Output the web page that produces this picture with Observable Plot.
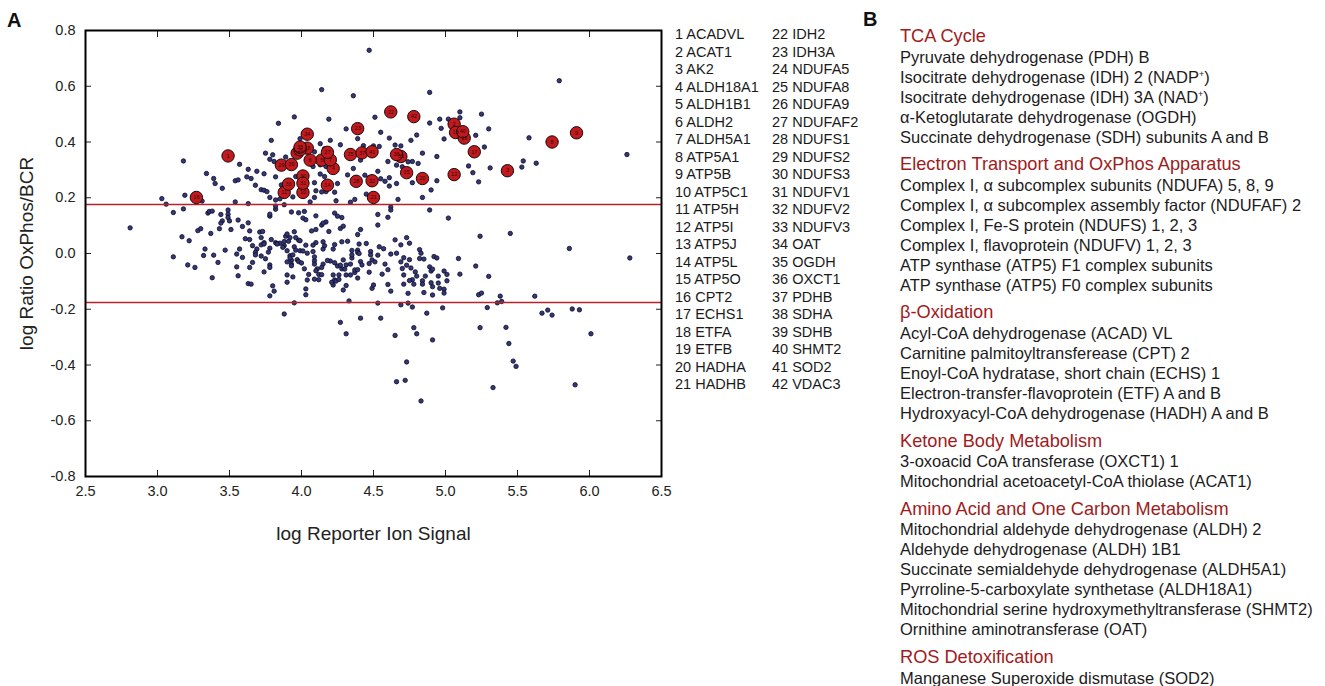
<!DOCTYPE html>
<html><head><meta charset="utf-8">
<script src="https://cdn.jsdelivr.net/npm/d3@7"></script>
<script src="https://cdn.jsdelivr.net/npm/@observablehq/plot@0.6"></script>
<style>
body{margin:0;background:#fff;font-family:"Liberation Sans",Arial,Helvetica,sans-serif;}
#wrap{position:relative;width:1325px;height:686px;overflow:hidden;background:#fff;}
#chart{position:absolute;left:0;top:0;}
.panel{position:absolute;font-weight:bold;font-size:20px;color:#111;}
.col{position:absolute;top:26.25px;font-size:14.5px;line-height:17.5px;color:#1a1a1a;white-space:nowrap;}
#pathways{position:absolute;left:900px;top:26px;white-space:nowrap;}
.hd{color:#a11b21;font-size:18.2px;line-height:20px;margin-top:7.5px;padding-bottom:0.7px;}
.hd.first{margin-top:0;}
.ln{font-size:16.5px;line-height:20px;color:#1d1b1c;}
#chart g[aria-label="x-axis label"] text,#chart g[aria-label="y-axis label"] text{font-size:19px;}
</style>
</head><body>
<div id="wrap">
  <div id="chart"></div>
  <div class="panel" style="left:7px;top:9px;">A</div>
  <div class="panel" style="left:863px;top:8px;">B</div>
  <div class="col" id="col1" style="left:675px;"></div>
  <div class="col" id="col2" style="left:772px;"></div>
  <div id="pathways"></div>
</div>
<script>
// Axis ticks
const xTicks = [2.5, 3.0, 3.5, 4.0, 4.5, 5.0, 5.5, 6.0, 6.5];
const yTicks = [-0.8, -0.6, -0.4, -0.2, 0.0, 0.2, 0.4, 0.6, 0.8];
// 1.5-fold thresholds (log10 1.5)
const thresholds = [0.176, -0.176];

// Highlighted mitochondrial proteins (numbered), [log signal, log ratio]
const proteinNames = ["ACADVL","ACAT1","AK2","ALDH18A1","ALDH1B1","ALDH2","ALDH5A1","ATP5A1","ATP5B","ATP5C1",
  "ATP5H","ATP5I","ATP5J","ATP5L","ATP5O","CPT2","ECHS1","ETFA","ETFB","HADHA","HADHB",
  "IDH2","IDH3A","NDUFA5","NDUFA8","NDUFA9","NDUFAF2","NDUFS1","NDUFS2","NDUFS3","NDUFV1",
  "NDUFV2","NDUFV3","OAT","OGDH","OXCT1","PDHB","SDHA","SDHB","SHMT2","SOD2","VDAC3"];
const proteinSignal = [3.49,5.06,5.43,4.22,4.14,4.06,4.20,5.74,5.91,4.01,
  3.88,5.06,5.07,4.18,4.73,3.27,5.20,4.04,5.13,4.84,4.50,
  4.62,4.39,3.97,4.34,3.99,4.18,4.38,3.86,4.01,4.01,
  4.49,3.91,4.04,4.69,4.66,4.42,3.99,3.93,5.12,4.49,4.78];
const proteinRatio = [0.350,0.464,0.297,0.305,0.335,0.335,0.336,0.400,0.433,0.219,
  0.219,0.283,0.434,0.245,0.290,0.201,0.365,0.378,0.414,0.269,0.201,
  0.508,0.448,0.360,0.355,0.372,0.363,0.259,0.317,0.278,0.252,
  0.261,0.249,0.428,0.348,0.355,0.361,0.382,0.319,0.437,0.365,0.491];

// All other quantified proteins, [log reporter ion signal, log ratio]
const otherProteins = [
[3.95,0.490],[3.84,0.467],[3.79,0.406],[3.99,0.412],[3.18,0.332],[3.75,0.360],[3.80,0.354],[3.89,0.346],[3.78,0.338],[3.81,0.330],[3.57,0.320],[3.63,0.302],[3.69,0.295],[3.34,0.287],[3.62,0.275],[3.65,0.269],[3.74,0.286],[3.82,0.275],[3.96,0.276],[3.39,0.269],[3.40,0.251],[3.45,0.234],[3.54,0.261],[3.56,0.264],[3.68,0.245],[3.72,0.229],[3.74,0.227],[3.76,0.222],[3.86,0.246],[3.78,0.201],[3.82,0.192],[3.85,0.196],[3.94,0.203],[3.19,0.209],[3.03,0.197],[3.06,0.177],[3.31,0.188],[3.54,0.185],[3.63,0.179],[3.11,0.147],[3.18,0.160],[3.35,0.145],[3.36,0.151],[3.38,0.152],[3.49,0.156],[3.44,0.140],[3.49,0.141],[3.49,0.129],[3.45,0.117],[3.44,0.109],[3.50,0.117],[3.43,0.089],[3.51,0.086],[3.56,0.120],[3.59,0.097],[3.63,0.110],[3.64,0.081],[3.78,0.134],[3.78,0.141],[3.82,0.159],[3.82,0.170],[3.88,0.175],[3.93,0.149],[3.98,0.146],[3.28,0.082],[3.30,0.089],[3.37,0.072],[2.81,0.092],[3.17,0.060],[3.22,0.046],[3.33,0.016],[3.47,0.012],[3.61,0.053],[3.64,0.050],[3.71,0.077],[3.73,0.079],[3.72,0.057],[3.74,0.039],[3.79,0.050],[3.82,0.039],[3.83,0.036],[3.85,0.037],[3.88,0.028],[3.89,0.062],[3.90,0.070],[3.92,0.057],[3.95,0.078],[3.96,0.057],[3.98,0.048],[3.88,0.043],[3.78,0.019],[3.69,0.016],[3.57,0.016],
[3.11,-0.012],[3.21,-0.041],[3.26,-0.050],[3.32,-0.007],[3.39,-0.006],[3.42,-0.032],[3.55,-0.002],[3.55,-0.048],[3.56,-0.080],[3.59,-0.014],[3.38,-0.087],[3.63,-0.108],[3.65,-0.110],[3.64,-0.050],[3.66,-0.032],[3.66,0.028],[3.68,0.004],[3.68,-0.005],[3.72,-0.009],[3.72,0.031],[3.74,0.034],[3.74,-0.066],[3.75,-0.019],[3.77,0.005],[3.78,-0.041],[3.78,-0.050],[3.80,-0.116],[3.78,-0.152],[3.81,-0.135],[3.83,0.034],[3.87,0.022],[3.90,0.010],[3.92,-0.008],[3.93,-0.024],[3.93,-0.038],[3.94,-0.005],[3.94,-0.084],[3.90,-0.077],[3.90,-0.103],[3.95,0.024],[3.97,-0.022],[3.98,-0.029],[3.95,-0.177],[3.88,-0.217],[3.99,0.010],
[4.47,0.729],[4.14,0.588],[4.36,0.566],[4.89,0.578],[5.79,0.620],[4.19,0.482],[4.51,0.489],[4.31,0.447],[4.55,0.435],[4.80,0.425],[4.76,0.406],[4.61,0.414],[4.89,0.468],[4.96,0.482],[4.97,0.449],[4.99,0.411],[5.02,0.482],[5.10,0.487],[5.10,0.508],[5.25,0.500],[5.30,0.447],[5.21,0.424],[5.27,0.382],[5.58,0.415],[5.54,0.332],[5.53,0.310],[5.63,0.324],[5.31,0.307],[5.16,0.314],[5.19,0.290],[5.23,0.257],[5.86,0.018],[5.45,0.072],[5.24,0.062],[5.02,0.127],[4.89,0.156],[4.84,0.201],[4.90,0.228],[4.94,0.261],[4.77,0.254],[4.81,0.323],[4.77,0.330],[4.74,0.329],[4.84,0.360],[4.94,0.348],[4.69,0.386],[4.65,0.389],[4.60,0.330],[4.66,0.317],[4.70,0.311],[4.61,0.272],[4.66,0.251],[4.61,0.242],[4.58,0.259],[4.55,0.268],[4.53,0.295],[4.50,0.386],[4.54,0.384],[4.43,0.387],[4.41,0.335],[4.36,0.305],[4.32,0.282],[4.44,0.281],[4.47,0.272],[4.45,0.213],[4.37,0.194],[4.34,0.184],[4.67,0.194],[4.62,0.167],[4.62,0.156],[4.60,0.130],[4.53,0.140],[4.53,0.102],[4.39,0.412],[4.27,0.390],[4.20,0.406],[4.13,0.394],[4.16,0.376],[4.09,0.365],[4.08,0.332],[4.08,0.312],[4.13,0.318],[4.17,0.312],[4.13,0.285],[4.16,0.276],[4.09,0.254],[4.10,0.225],[4.14,0.221],[4.17,0.222],[4.23,0.220],[4.24,0.189],[4.25,0.251],[4.06,0.185],[4.09,0.201],[4.02,0.151],[4.01,0.127],[4.03,0.121],[4.10,0.135],[4.23,0.145],[4.25,0.134],[4.28,0.129],[4.17,0.113],[4.14,0.102],[4.15,0.109],[4.10,0.086],[4.07,0.081],[4.27,0.090],[4.29,0.098],[4.19,0.079],[4.41,0.086],[4.39,0.068],[4.32,0.044],[4.28,0.042],[4.40,0.034],[4.45,0.036],[4.54,0.024],[4.65,0.049],[4.69,0.031],[4.73,0.057],[4.75,0.037],[4.82,0.014],[4.83,0.001],[4.92,-0.011],[5.09,-0.018],[4.66,0.001],[4.62,-0.002],[4.48,0.007],[4.39,0.012],[4.35,0.011],[4.22,0.016],[4.15,0.016],[4.10,0.039],[4.08,0.030],[4.03,0.030],[3.99,0.046],[3.91,0.044],[3.96,0.012],[4.01,0.009],[4.04,0.001],
[4.15,0.042],[4.16,0.028],[4.23,0.032],[4.39,0.004],[4.57,0.017],[4.82,-0.018],[4.85,-0.020],[4.94,-0.016],[5.21,-0.045],[5.10,-0.074],[5.30,-0.082],[5.23,-0.148],[5.25,-0.142],[5.38,-0.153],[5.39,-0.172],[5.36,-0.177],[5.29,-0.194],[5.62,-0.153],[5.67,-0.214],[5.71,-0.203],[5.74,-0.221],[5.88,-0.199],[5.93,-0.202],[5.24,-0.266],[5.42,-0.265],[5.44,-0.323],[5.47,-0.386],[5.49,-0.405],[5.33,-0.481],[5.90,-0.471],[4.98,-0.195],[4.87,-0.214],[4.91,-0.310],[4.77,-0.192],[4.74,-0.178],[4.69,-0.184],[4.78,-0.266],[4.80,-0.288],[4.65,-0.294],[4.73,-0.389],[4.66,-0.460],[4.72,-0.455],[4.83,-0.529],[4.55,-0.232],[4.41,-0.232],[4.27,-0.247],[4.31,-0.288],[4.33,-0.170],[4.53,-0.178],[4.29,-0.131],[4.31,-0.115],[4.22,-0.113],[4.21,-0.103],[4.23,-0.095],[4.24,-0.099],[4.26,-0.093],[4.26,-0.077],[4.22,-0.077],[4.31,-0.077],[4.34,-0.077],[4.39,-0.088],[4.37,-0.068],[4.37,-0.059],[4.28,-0.055],[4.30,-0.056],[4.25,-0.045],[4.27,-0.042],[4.31,-0.041],[4.34,-0.038],[4.29,-0.023],[4.23,-0.033],[4.20,-0.027],[4.18,-0.025],[4.15,-0.038],[4.14,-0.050],[4.11,-0.055],[4.10,-0.062],[4.12,-0.075],[4.09,-0.092],[4.12,-0.094],[4.14,-0.076],[4.05,-0.075],[4.04,-0.095],[4.02,-0.055],[4.00,-0.034],[3.92,-0.016],[3.93,-0.044],[3.90,-0.030],[4.03,-0.127],[4.03,-0.148],[4.09,-0.026],[4.09,-0.038],[4.09,-0.012],[4.08,0.007],[4.35,-0.016],[4.35,-0.005],[4.40,0.000],[4.41,-0.029],[4.42,-0.041],[4.39,-0.058],[4.47,-0.067],[4.49,-0.125],[4.50,-0.113],[4.47,-0.036],[4.49,-0.023],[4.51,-0.030],[4.53,-0.006],[4.48,-0.005],[4.56,-0.074],[4.58,-0.038],[4.60,-0.058],[4.62,-0.135],[4.60,-0.111],[4.69,-0.030],[4.70,-0.054],[4.71,-0.077],[4.71,-0.110],[4.71,-0.015],[4.73,-0.042],[4.75,-0.022],[4.76,-0.052],[4.77,-0.094],[4.74,-0.143],[4.75,-0.097],[4.79,-0.066],[4.80,-0.081],[4.78,-0.110],[4.84,-0.098],[4.84,-0.110],[4.85,-0.140],[4.86,-0.081],[4.89,-0.048],[4.90,-0.063],[4.91,-0.056],[4.95,-0.081],[4.90,-0.105],[4.91,-0.119],[4.91,-0.149],[4.95,-0.106],[4.96,-0.125],[4.99,-0.128],[4.99,-0.142],[4.99,-0.063],[5.01,-0.075],[5.01,-0.098],
[6.28,-0.016],[6.01,-0.288],[6.26,0.355]
];

// Panel B: pathway groups
const pathwayGroups = [
  {title: "TCA Cycle", items: ["Pyruvate dehydrogenase (PDH) B","Isocitrate dehydrogenase (IDH) 2 (NADP<sup>+</sup>)","Isocitrate dehydrogenase (IDH) 3A (NAD<sup>+</sup>)","\u03B1-Ketoglutarate dehydrogenase (OGDH)","Succinate dehydrogenase (SDH) subunits A and B"]},
  {title: "Electron Transport and OxPhos Apparatus", items: ["Complex I, \u03B1 subcomplex subunits (NDUFA) 5, 8, 9","Complex I, \u03B1 subcomplex assembly factor (NDUFAF) 2","Complex I, Fe-S protein (NDUFS) 1, 2, 3","Complex I, flavoprotein (NDUFV) 1, 2, 3","ATP synthase (ATP5) F1 complex subunits","ATP synthase (ATP5) F0 complex subunits"]},
  {title: "\u03B2-Oxidation", items: ["Acyl-CoA dehydrogenase (ACAD) VL","Carnitine palmitoyltransferease (CPT) 2","Enoyl-CoA hydratase, short chain (ECHS) 1","Electron-transfer-flavoprotein (ETF) A and B","Hydroxyacyl-CoA dehydrogenase (HADH) A and B"]},
  {title: "Ketone Body Metabolism", items: ["3-oxoacid CoA transferase (OXCT1) 1","Mitochondrial acetoacetyl-CoA thiolase (ACAT1)"]},
  {title: "Amino Acid and One Carbon Metabolism", items: ["Mitochondrial aldehyde dehydrogenase (ALDH) 2","Aldehyde dehydrogenase (ALDH) 1B1","Succinate semialdehyde dehydrogenase (ALDH5A1)","Pyrroline-5-carboxylate synthetase (ALDH18A1)","Mitochondrial serine hydroxymethyltransferase (SHMT2)","Ornithine aminotransferase (OAT)"]},
  {title: "ROS Detoxification", items: ["Manganese Superoxide dismutase (SOD2)"]}
];

const highlighted = proteinNames.map((name, i) => ({id: String(i + 1), name, x: proteinSignal[i], y: proteinRatio[i]}));
const others = otherProteins.map(([x, y]) => ({x, y}));

const fmt = d => d.toFixed(1);
const plot = Plot.plot({
  width: 674, height: 560,
  marginLeft: 85, marginRight: 13, marginTop: 30, marginBottom: 84,
  style: {fontFamily: "'Liberation Sans', Arial, sans-serif", fontSize: "14.5px", color: "#222", background: "transparent", overflow: "visible"},
  x: {domain: [2.5, 6.5]},
  y: {domain: [-0.8, 0.8]},
  marks: [
    Plot.dot(others, {x: "x", y: "y", r: 2.2, fill: "#34377a", stroke: "#0b0b22", strokeWidth: 0.8}),
    Plot.ruleY(thresholds, {stroke: "#b8232a", strokeWidth: 1.6}),
    Plot.dot(highlighted, {x: "x", y: "y", r: 6.2, fill: "#c01a1f", stroke: "#1a0808", strokeWidth: 1}),
    Plot.text(highlighted, {x: "x", y: "y", text: "id", fontSize: 5.5, fill: "#3a0505"}),
    Plot.axisX({ticks: xTicks, tickSize: -6, tickPadding: 15, tickFormat: fmt, label: "log Reporter Ion Signal", labelAnchor: "center", labelArrow: "none", labelOffset: 63}),
    Plot.axisX({anchor: "top", ticks: xTicks, tickSize: -6, tickFormat: () => "", label: null}),
    Plot.axisY({ticks: yTicks, tickSize: -6, tickPadding: 16, tickFormat: fmt, label: "log Ratio OxPhos/BCR", labelAnchor: "center", labelArrow: "none", labelOffset: 66}),
    Plot.axisY({anchor: "right", ticks: yTicks, tickSize: -6, tickFormat: () => "", label: null}),
    Plot.frame({stroke: "#000", strokeWidth: 2})
  ]
});
document.getElementById("chart").appendChild(plot);

// Numbered protein key
const c1 = document.getElementById("col1"), c2 = document.getElementById("col2");
proteinNames.forEach((n, i) => {
  const d = document.createElement("div");
  d.textContent = (i + 1) + " " + n;
  (i < 21 ? c1 : c2).appendChild(d);
});

// Panel B
const pw = document.getElementById("pathways");
pathwayGroups.forEach((g, gi) => {
  const h = document.createElement("div");
  h.className = "hd" + (gi === 0 ? " first" : "");
  h.textContent = g.title;
  pw.appendChild(h);
  g.items.forEach(t => {
    const l = document.createElement("div");
    l.className = "ln";
    l.innerHTML = t.replace(/<sup>/g, '<sup style="font-size:9px;vertical-align:6px;line-height:0">');
    pw.appendChild(l);
  });
});
</script>
</body></html>
